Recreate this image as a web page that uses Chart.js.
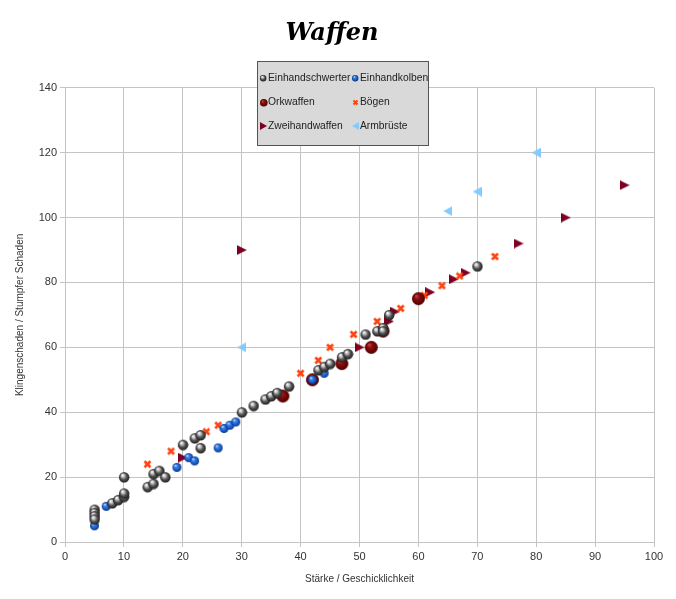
<!DOCTYPE html>
<html>
<head>
<meta charset="utf-8">
<script src="https://cdn.jsdelivr.net/npm/chart.js@4"></script>
<style>
    html, body { margin: 0; padding: 0; background: #fff; }
</style>
</head>
<body>
<canvas id="myChart" width="676" height="599"></canvas>
<script>
// Werte
const seriesNames = ["Einhandschwerter", "Einhandkolben", "Orkwaffen", "Bögen", "Zweihandwaffen", "Armbrüste"];

const schwerterX = [5, 5, 5, 5, 8, 9, 10, 10, 10, 14, 15, 15, 16, 17, 20, 22, 23, 23, 30, 32, 34, 35, 36, 38, 43, 44, 45, 47, 48, 51, 53, 54, 54, 55, 70];
const schwerterY = [10, 9, 8, 7, 12, 13, 14, 15, 20, 17, 18, 21, 22, 20, 30, 32, 33, 29, 40, 42, 44, 45, 46, 48, 53, 54, 55, 57, 58, 64, 65, 66, 65, 70, 85];

const kolbenX = [5, 7, 19, 21, 22, 26, 27, 28, 29, 42, 44];
const kolbenY = [5, 11, 23, 26, 25, 29, 35, 36, 37, 50, 52];

const orkX = [37, 42, 47, 52, 54, 60];
const orkY = [45, 50, 55, 60, 65, 75];

const boegenX = [14, 18, 24, 26, 40, 43, 45, 49, 53, 57, 61, 64, 67, 73];
const boegenY = [24, 28, 34, 36, 52, 56, 60, 64, 68, 72, 76, 79, 82, 88];

const zweihandX = [20, 30, 50, 55, 56, 62, 66, 68, 77, 85, 95];
const zweihandY = [26, 90, 60, 68, 71, 77, 81, 83, 92, 100, 110];

const armbrustX = [30, 65, 70, 80];
const armbrustY = [60, 102, 108, 120];

const xTicks = { min: 0, max: 100, step: 10 };
const yTicks = { min: 0, max: 140, step: 20 };

const toPoints = function (xs, ys) {
    return xs.map((x, i) => ({ x: x, y: ys[i] }));
};

// kleine Bilder fuer die Punkte
const sphere = function (r, stops) {
    const c = document.createElement("canvas");
    c.width = c.height = 2 * r + 2;
    const g = c.getContext("2d");
    const m = r + 1;
    const grad = g.createRadialGradient(m - r * 0.35, m - r * 0.45, r * 0.05, m, m, r);
    stops.forEach((s) => grad.addColorStop(s[0], s[1]));
    g.fillStyle = grad;
    g.beginPath();
    g.arc(m, m, r, 0, Math.PI * 2);
    g.fill();
    return c;
};

const cross = function (s, color, lw) {
    const c = document.createElement("canvas");
    c.width = c.height = s;
    const g = c.getContext("2d");
    g.strokeStyle = color;
    g.lineWidth = lw;
    g.beginPath();
    g.moveTo(1.5, 1.5); g.lineTo(s - 1.5, s - 1.5);
    g.moveTo(s - 1.5, 1.5); g.lineTo(1.5, s - 1.5);
    g.stroke();
    return c;
};

const triangle = function (w, h, color, right) {
    const c = document.createElement("canvas");
    c.width = w;
    c.height = h;
    const g = c.getContext("2d");
    g.fillStyle = color;
    g.beginPath();
    if (right) {
        g.moveTo(0, 0); g.lineTo(w, h / 2); g.lineTo(0, h);
    } else {
        g.moveTo(w, 0); g.lineTo(0, h / 2); g.lineTo(w, h);
    }
    g.closePath();
    g.fill();
    return c;
};

const grayStops = [[0, "#ffffff"], [0.25, "#c8c8c8"], [0.6, "#555555"], [1, "#1e1e1e"]];
const blueStops = [[0, "#cfe4ff"], [0.3, "#3b82e8"], [0.75, "#1454c0"], [1, "#0a3278"]];
const redStops = [[0, "#c04848"], [0.35, "#8a1010"], [0.8, "#6a0000"], [1, "#3c0000"]];

const icons = [
    sphere(5.2, grayStops),
    sphere(4.5, blueStops),
    sphere(6.5, redStops),
    cross(9, "#ff420e", 2.6),
    triangle(10, 10, "#7e0021", true),
    triangle(9, 10, "#83caff", false),
];
const smallIcons = [
    sphere(3.2, grayStops),
    sphere(3.2, blueStops),
    sphere(3.8, redStops),
    cross(7, "#ff420e", 2),
    triangle(7, 8, "#7e0021", true),
    triangle(7, 8, "#83caff", false),
];

const values = [
    toPoints(schwerterX, schwerterY),
    toPoints(kolbenX, kolbenY),
    toPoints(orkX, orkY),
    toPoints(boegenX, boegenY),
    toPoints(zweihandX, zweihandY),
    toPoints(armbrustX, armbrustY),
];

// Legende als Kasten mit zwei Spalten
const legendBox = {
    id: "legendBox",
    afterDraw(chart) {
        const c = chart.ctx;
        const x0 = 257, y0 = 61, w = 171, h = 84;
        c.save();
        c.fillStyle = "#d9d9d9";
        c.fillRect(x0, y0, w, h);
        c.strokeStyle = "#555";
        c.lineWidth = 1;
        c.strokeRect(x0 + 0.5, y0 + 0.5, w, h);
        c.font = "10.3px 'Liberation Sans', Arial, sans-serif";
        c.fillStyle = "#222";
        c.textBaseline = "middle";
        seriesNames.forEach((name, i) => {
            const col = i % 2, row = Math.floor(i / 2);
            const mx = x0 + 6 + col * 92, my = y0 + 17 + row * 24;
            const img = smallIcons[i];
            c.drawImage(img, Math.round(mx - img.width / 2), Math.round(my - img.height / 2));
            c.fillText(name, mx + 5, my + 0.5);
        });
        c.restore();
    },
};

const tickFont = { family: "'Liberation Sans', Arial, sans-serif", size: 11 };
const titleFont = { family: "'Liberation Sans', Arial, sans-serif", size: 10 };

new Chart(document.getElementById("myChart"), {
    type: "scatter",
    data: {
        datasets: seriesNames.map((name, i) => ({
            label: name,
            data: values[i],
            pointStyle: icons[i],
            pointRadius: 5,
        })),
    },
    options: {
        responsive: false,
        animation: false,
        events: [],
        layout: { padding: { left: 10, right: 22, top: 0, bottom: 10 } },
        plugins: {
            legend: { display: false },
            tooltip: { enabled: false },
            title: {
                display: true,
                text: "Waffen",
                color: "#000",
                font: { family: "'DejaVu Serif', serif", size: 24, weight: "bold", style: "italic" },
                padding: { top: 19, bottom: 40 },
            },
        },
        scales: {
            x: {
                type: "linear",
                min: xTicks.min,
                max: xTicks.max,
                ticks: { stepSize: xTicks.step, color: "#333", font: tickFont, maxRotation: 0 },
                grid: { color: "#c4c4c4", tickLength: 5 },
                border: { color: "#c4c4c4" },
                title: { display: true, text: "Stärke / Geschicklichkeit", color: "#333", font: titleFont },
                afterFit(scale) { scale.height = 47; },
            },
            y: {
                type: "linear",
                min: yTicks.min,
                max: yTicks.max,
                ticks: { stepSize: yTicks.step, color: "#333", font: tickFont },
                grid: { color: "#c4c4c4", tickLength: 5 },
                border: { color: "#c4c4c4" },
                title: { display: true, text: "Klingenschaden / Stumpfer Schaden", color: "#333", font: titleFont },
                afterFit(scale) { scale.width = 55; },
            },
        },
    },
    plugins: [legendBox],
});
</script>
</body>
</html>
